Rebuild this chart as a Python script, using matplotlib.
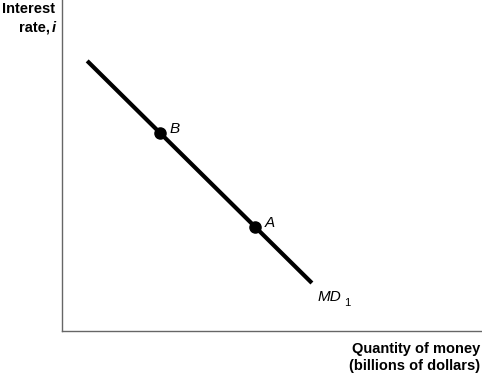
import matplotlib
matplotlib.use("Agg")
import matplotlib.pyplot as plt

plt.rcParams['font.family'] = ['Liberation Sans', 'DejaVu Sans']

# money demand curve MD1 (axis units 0-10)
md_x = [0.6, 5.95]
md_y = [8.16, 1.45]

# labelled points on the curve
point_names = ["B", "A"]
point_x = [2.33, 4.6]
point_y = [5.99, 3.14]

fig = plt.figure(figsize=(4.82, 3.76), dpi=100)
ax = fig.add_axes([62 / 482, 45 / 376, 420 / 482, 331 / 376])
ax.set_xlim(0, 10)
ax.set_ylim(0, 10)

ax.plot(md_x, md_y, color="black", lw=3, solid_capstyle="butt")
ax.plot(point_x, point_y, "o", color="black", ms=8)
for name, x, y in zip(point_names, point_x, point_y):
    ax.text(x + 0.22, y + 0.12, name, fontsize=11, style="italic", va="center", ha="left")

ax.text(6.08, 1.03, "MD", fontsize=11, style="italic", va="center", ha="left")
ax.text(6.72, 0.85, "1", fontsize=8, va="center", ha="left")

for s in ["top", "right"]:
    ax.spines[s].set_visible(False)
for s in ["left", "bottom"]:
    ax.spines[s].set_color("#666666")
    ax.spines[s].set_linewidth(1)
ax.set_xticks([])
ax.set_yticks([])

fig.text(55 / 482, 1 - 2 / 376, "Interest", fontsize=10.5, weight="bold", ha="right", va="top")
fig.text(50 / 482, 1 - 21 / 376, "rate,", fontsize=10.5, weight="bold", ha="right", va="top")
fig.text(56 / 482, 1 - 21 / 376, "i", fontsize=10.5, weight="bold", style="italic", ha="right", va="top")

fig.text(480 / 482, 1 - 342 / 376, "Quantity of money\n(billions of dollars)", fontsize=10.5,
         weight="bold", ha="right", va="top", linespacing=1.3)

fig.savefig("out.png", dpi=100)
